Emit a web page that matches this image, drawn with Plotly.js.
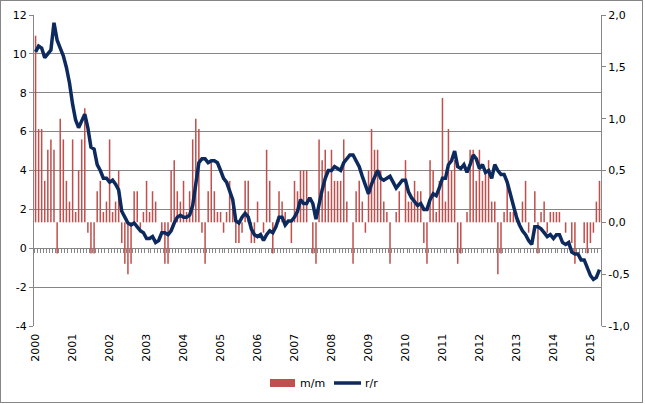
<!DOCTYPE html>
<html>
<head>
<meta charset="utf-8">
<script src="https://cdn.plot.ly/plotly-3.0.1.min.js"></script>
<style>
  html, body { margin: 0; padding: 0; background: #ffffff; }
  #wrap { position: relative; width: 645px; height: 404px; }
  #chart { position: absolute; left: 0; top: 0; width: 645px; height: 404px; }
  #frame { position: absolute; left: 0; top: 0; width: 643px; height: 403px;
           border: 1px solid #868686; box-sizing: border-box; pointer-events: none; }
</style>
</head>
<body>
<div id="wrap"><div id="chart"></div><div id="frame"></div></div>
<script>
// Monthly CPI changes, January 2000 onwards
const startYear = 2000;

// m/m, % (right axis)
const mm = [
  1.8, 0.9, 0.9, 0.4, 0.7, 0.8, 0.7, -0.3, 1.0, 0.8, 0.4, 0.2,
  0.8, 0.1, 0.5, 0.8, 1.1, -0.1, -0.3, -0.3, 0.3, 0.4, 0.1, 0.2,
  0.8, 0.1, 0.2, 0.5, -0.2, -0.4, -0.5, -0.4, 0.3, 0.3, -0.1, 0.1,
  0.4, 0.1, 0.3, 0.2, 0.0, -0.1, -0.4, -0.4, 0.5, 0.6, 0.3, 0.2,
  0.4, 0.1, 0.3, 0.8, 1.0, 0.9, -0.1, -0.4, 0.3, 0.6, 0.3, 0.1,
  0.1, -0.1, 0.1, 0.4, 0.2, -0.2, -0.2, -0.1, 0.4, 0.4, -0.2, -0.2,
  0.2, 0.0, -0.1, 0.7, 0.4, -0.3, 0.0, 0.3, 0.2, 0.1, 0.0, -0.2,
  0.4, 0.3, 0.5, 0.5, 0.5, 0.0, -0.3, -0.4, 0.8, 0.6, 0.7, 0.3,
  0.7, 0.4, 0.4, 0.4, 0.8, 0.2, 0.0, -0.4, 0.3, 0.4, 0.2, -0.1,
  0.5, 0.9, 0.7, 0.7, 0.5, 0.2, 0.1, -0.4, 0.0, 0.1, 0.3, 0.0,
  0.6, 0.2, 0.2, 0.4, 0.3, 0.3, -0.2, -0.4, 0.6, 0.5, 0.1, 0.4,
  1.2, 0.2, 0.9, 0.5, 0.6, -0.4, -0.3, 0.0, 0.1, 0.7, 0.7, 0.4,
  0.7, 0.4, 0.5, 0.6, 0.2, 0.2, -0.5, -0.3, 0.1, 0.4, 0.1, 0.1,
  0.1, 0.0, 0.2, 0.4, -0.1, 0.0, 0.3, -0.3, 0.1, 0.2, -0.1, 0.1,
  0.1, 0.1, 0.1, 0.0, -0.1, 0.0, -0.2, -0.4, 0.0, 0.0, -0.2, -0.3,
  -0.2, -0.1, 0.2, 0.4
];

// r/r, % (left axis)
const rr = [
  10.1, 10.4, 10.3, 9.8, 10.0, 10.2, 11.6, 10.7, 10.3, 9.9, 9.3, 8.5,
  7.4, 6.6, 6.2, 6.6, 6.9, 6.2, 5.2, 5.1, 4.3, 4.0, 3.6, 3.6,
  3.4, 3.5, 3.3, 3.0, 1.9, 1.6, 1.3, 1.2, 1.3, 1.1, 0.9, 0.8,
  0.5, 0.5, 0.6, 0.3, 0.4, 0.8, 0.8, 0.7, 0.9, 1.3, 1.6, 1.7,
  1.6, 1.6, 1.7, 2.2, 3.4, 4.4, 4.6, 4.6, 4.4, 4.5, 4.5, 4.4,
  4.0, 3.6, 3.4, 3.0, 2.5, 1.4, 1.3, 1.6, 1.8, 1.6, 1.0, 0.7,
  0.6, 0.7, 0.4, 0.7, 0.9, 0.8, 1.1, 1.6, 1.6, 1.2, 1.4, 1.4,
  1.6, 1.9, 2.5, 2.3, 2.3, 2.6, 2.3, 1.5, 2.3, 3.0, 3.6, 4.0,
  4.0, 4.2, 4.1, 4.0, 4.4, 4.6, 4.8, 4.8, 4.5, 4.2, 3.7, 3.3,
  2.8, 3.3, 3.6, 4.0, 3.6, 3.5, 3.6, 3.7, 3.4, 3.1, 3.3, 3.5,
  3.5, 2.9, 2.6, 2.4, 2.2, 2.3, 2.0, 2.0, 2.5, 2.8, 2.7, 3.1,
  3.6, 3.6, 4.3, 4.5, 5.0, 4.2, 4.1, 4.3, 3.9, 4.3, 4.8, 4.6,
  4.1, 4.3, 3.9, 4.0, 3.6, 4.3, 4.0, 3.8, 3.8, 3.4, 2.8, 2.3,
  1.6, 1.2, 0.9, 0.7, 0.4, 0.2, 1.1, 1.1, 1.0, 0.8, 0.6, 0.7,
  0.5, 0.7, 0.7, 0.3, 0.2, 0.3, -0.2, -0.3, -0.3, -0.6, -0.6, -1.0,
  -1.4, -1.6, -1.5, -1.1
];

const yearLabels = ['2000', '2001', '2002', '2003', '2004', '2005', '2006', '2007',
                    '2008', '2009', '2010', '2011', '2012', '2013', '2014', '2015'];
const leftTicks = [-4, -2, 0, 2, 4, 6, 8, 10, 12];
const rightTicks = [-1, -0.5, 0, 0.5, 1, 1.5, 2];

// month keys "YYYY-MM"
const months = [];
for (let i = 0; i < mm.length; i++) {
  const y = startYear + Math.floor(i / 12);
  const m = (i % 12) + 1;
  months.push(y + '-' + String(m).padStart(2, '0'));
}
const lastMonth = months[months.length - 1].split('-').map(Number);
const rangeEnd = lastMonth[1] === 12
  ? (lastMonth[0] + 1) + '-01-01'
  : lastMonth[0] + '-' + String(lastMonth[1] + 1).padStart(2, '0') + '-01';

const GRID = '#868686';
const BAR = '#c0504d';
const LINE = '#0c2a5e';
const DAY = 86400000;

const traces = [
  {
    type: 'bar', name: 'm/m', x: months, y: mm,
    xperiod: 'M1', xperiodalignment: 'middle',
    width: 15 * DAY,
    yaxis: 'y',
    marker: { color: BAR, line: { width: 0 } },
    hoverinfo: 'skip'
  },
  {
    type: 'scatter', mode: 'lines', name: 'r/r', x: months, y: rr,
    xperiod: 'M1', xperiodalignment: 'middle',
    yaxis: 'y2',
    line: { color: LINE, width: 3.5 },
    hoverinfo: 'skip'
  }
];

// plot area: 34..601 px horizontally, 15..326 px vertically
const px = v => (v - 34) / 567;
const py = v => (326 - v) / 311;

const layout = {
  width: 645, height: 404,
  margin: { l: 34, r: 44, t: 15, b: 78, pad: 0 },
  paper_bgcolor: '#ffffff', plot_bgcolor: 'rgba(0,0,0,0)',
  showlegend: false,
  separators: ', ',
  font: { family: 'DejaVu Sans', size: 11, color: '#000000' },
  xaxis: {
    type: 'date', range: [months[0] + '-01', rangeEnd],
    anchor: 'free', position: 0.25,
    showline: true, linecolor: GRID, linewidth: 1,
    showgrid: false, zeroline: false,
    tickmode: 'array',
    tickvals: yearLabels.map(y => y + '-01-16'),
    ticktext: yearLabels,
    tickangle: -90, ticks: '',
    ticklabelstandoff: 80,
    minor: { ticks: 'outside', ticklen: 4, tickwidth: 1, tickcolor: GRID,
             dtick: 'M1', tick0: months[0] + '-01', showgrid: false },
    layer: 'below traces', fixedrange: true
  },
  yaxis: {
    range: [-1, 2], side: 'right', anchor: 'x',
    showgrid: false, zeroline: false,
    showline: true, linecolor: GRID, linewidth: 1,
    ticks: 'outside', ticklen: 4, tickcolor: GRID,
    tickmode: 'array', tickvals: rightTicks,
    ticktext: rightTicks.map(v => v.toFixed(1).replace('.', ',')),
    fixedrange: true
  },
  yaxis2: {
    range: [-4, 12], overlaying: 'y', side: 'left', anchor: 'x',
    showgrid: true, gridcolor: GRID, gridwidth: 1, zeroline: false,
    showline: true, linecolor: GRID, linewidth: 1,
    ticks: 'outside', ticklen: 4, tickcolor: GRID,
    tickmode: 'array', tickvals: leftTicks, ticktext: leftTicks.map(String),
    fixedrange: true
  },
  shapes: [
    { type: 'rect', xref: 'paper', yref: 'paper',
      x0: px(270), x1: px(295), y0: py(387), y1: py(379),
      fillcolor: BAR, line: { width: 0 } },
    { type: 'line', xref: 'paper', yref: 'paper',
      x0: px(334), x1: px(361), y0: py(383), y1: py(383),
      line: { color: LINE, width: 3.5 } }
  ],
  annotations: [
    { xref: 'paper', yref: 'paper', x: px(298), y: py(383), text: 'm/m',
      showarrow: false, xanchor: 'left', yanchor: 'middle',
      font: { family: 'DejaVu Sans', size: 11, color: '#000000' } },
    { xref: 'paper', yref: 'paper', x: px(363), y: py(383), text: 'r/r',
      showarrow: false, xanchor: 'left', yanchor: 'middle',
      font: { family: 'DejaVu Sans', size: 11, color: '#000000' } }
  ]
};

Plotly.newPlot('chart', traces, layout, { displayModeBar: false, staticPlot: true });
</script>
</body>
</html>
